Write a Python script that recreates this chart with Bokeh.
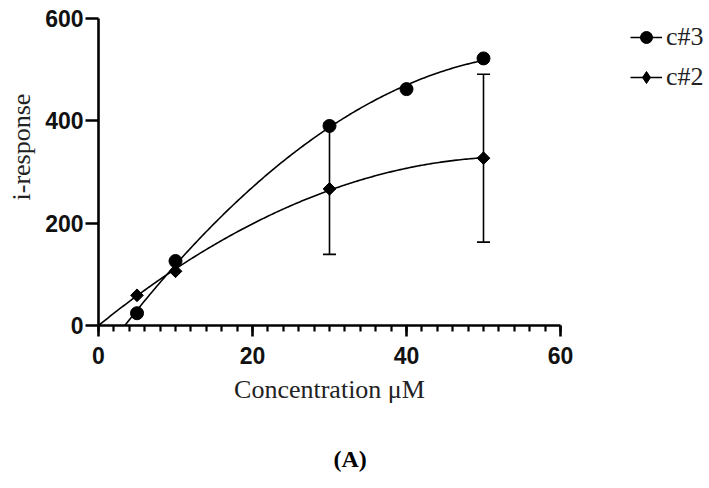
import numpy as np
from bokeh.plotting import figure
from bokeh.models import (Legend, LegendItem, Whisker, TeeHead, Title,
                          ColumnDataSource, FixedTicker)
from bokeh.embed import file_html
from bokeh.resources import INLINE

# data
conc_c3 = [5, 10, 30, 40, 50]
resp_c3 = [24, 126, 390, 462, 522]
conc_c2 = [5, 10, 30, 50]
resp_c2 = [59, 106, 267, 327]
err_x = [30, 50]
err_mid = [267, 327]
err_sd = [128, 164]
x_ticks = [0, 20, 40, 60]
y_ticks = [0, 200, 400, 600]

SERIF = "Liberation Serif"
SANS = "Liberation Sans"

p = figure(width=709, height=488, x_range=(0, 60), y_range=(0, 600),
           output_backend="svg", toolbar_location=None,
           min_border_left=98, min_border_right=149,
           min_border_top=18, min_border_bottom=163)
p.frame_width = 462
p.frame_height = 307
p.outline_line_color = None
p.grid.visible = False
p.background_fill_color = "white"

# fitted curves (least-squares quadratic fits of the data)
c3 = np.polyfit(conc_c3, resp_c3, 2)
roots = np.roots(c3)
r = [rt.real for rt in roots if abs(rt.imag) < 1e-9 and 0 < rt.real < 5]
x0 = r[0] if r else 4.0
xs3 = np.linspace(x0, 50, 200)
p.line(xs3, np.polyval(c3, xs3), line_color="black", line_width=1.6)

A = np.column_stack([np.array(conc_c2, float), np.array(conc_c2, float) ** 2])
coef2, *_ = np.linalg.lstsq(A, np.array(resp_c2, float), rcond=None)
xs2 = np.linspace(0, 50, 200)
p.line(xs2, coef2[0] * xs2 + coef2[1] * xs2 ** 2, line_color="black", line_width=1.6)

# error bars
src = ColumnDataSource(dict(x=err_x,
                            lo=[m - s for m, s in zip(err_mid, err_sd)],
                            hi=[m + s for m, s in zip(err_mid, err_sd)]))
w = Whisker(source=src, base="x", lower="lo", upper="hi", dimension="height",
            line_color="black", line_width=1.6,
            upper_head=TeeHead(size=13, line_color="black", line_width=1.6),
            lower_head=TeeHead(size=13, line_color="black", line_width=1.6))
p.add_layout(w)

r3 = p.scatter(conc_c3, resp_c3, marker="circle", size=13, color="black")
r2 = p.scatter(conc_c2, resp_c2, marker="square", angle=np.pi / 4, size=9,
               color="black")

# legend glyphs (line + marker)
l3 = p.line([0], [0], line_color="black", line_width=1.6, visible=False)
l2 = p.line([0], [0], line_color="black", line_width=1.6, visible=False)
m2 = p.scatter([0], [0], marker="diamond", size=14, color="black", visible=False)
legend = Legend(items=[LegendItem(label="c#3", renderers=[l3, r3]),
                       LegendItem(label="c#2", renderers=[l2, m2])],
                location=(70, 233), padding=0, margin=0,
                border_line_color=None, background_fill_alpha=0,
                label_text_font=SERIF, label_text_font_size="26px",
                label_text_color="#222222",
                glyph_width=32, glyph_height=30, label_height=30,
                spacing=10, label_standoff=4)
p.add_layout(legend, "right")

# axes
for ax in (p.xaxis[0], p.yaxis[0]):
    ax.axis_line_width = 2.6
    ax.axis_line_color = "black"
    ax.major_tick_line_width = 2.6
    ax.minor_tick_line_width = 2.2
    ax.major_tick_line_color = "black"
    ax.major_tick_in = 0
    ax.minor_tick_in = 0
    ax.major_label_text_font = SANS
    ax.major_label_text_font_style = "bold"
    ax.major_label_text_font_size = "23px"
    ax.major_label_text_color = "#111111"

p.xaxis.ticker = FixedTicker(ticks=x_ticks, minor_ticks=list(range(0, 61, 2)))
p.xaxis.major_tick_out = 11
p.xaxis.minor_tick_out = 6
p.xaxis.minor_tick_line_color = "black"
p.xaxis.major_label_standoff = 10
p.xaxis.axis_label = "Concentration \u03bcM"
p.xaxis.axis_label_text_font = SERIF
p.xaxis.axis_label_text_font_style = "normal"
p.xaxis.axis_label_text_font_size = "26px"
p.xaxis.axis_label_text_color = "#222222"
p.xaxis.axis_label_standoff = 8

p.yaxis.ticker = FixedTicker(ticks=y_ticks)
p.yaxis.major_tick_out = 13
p.yaxis.minor_tick_line_color = None
p.yaxis.major_label_standoff = 2
p.yaxis.major_label_orientation = "horizontal"

ytitle = Title(text="i-response", align="left", offset=125, standoff=9,
               vertical_align="top",
               text_font=SERIF, text_font_style="normal",
               text_font_size="26px", text_color="#222222")
p.add_layout(ytitle, "left")

panel = Title(text="(A)", align="left", offset=235, standoff=74,
              text_font=SERIF, text_font_style="bold",
              text_font_size="24px", text_color="black")
p.add_layout(panel, "below")

open("out.html", "w").write(file_html(p, INLINE))
